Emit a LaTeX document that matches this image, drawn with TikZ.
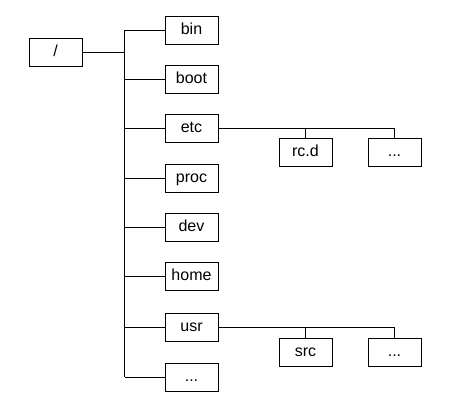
\documentclass[tikz,border=0pt]{standalone}
\usepackage{fontspec}
\setmainfont{Liberation Sans}
\usetikzlibrary{positioning}

\begin{document}
\begin{tikzpicture}[x=1pt, y=-1pt, line width=0.9pt]
            \tikzset{
                dir/.style={draw, minimum width=53pt, minimum height=28pt, inner sep=0pt, text height=11pt, text depth=3pt, font=\fontsize{16}{19}\selectfont}
            };
            \useasboundingbox (0, 0) rectangle (450, 400);
            \node[dir] (root) at (55.5, 52) {/};
            \node[dir] (bin) at (191.5, 30) {bin};
            \node[dir] (boot) at (191.5, 79.5) {boot};
            \node[dir] (etc) at (191.5, 128) {etc};
            \node[dir] (proc) at (191.5, 178) {proc};
            \node[dir] (dev) at (191.5, 227) {dev};
            \node[dir] (home) at (191.5, 276.5) {home};
            \node[dir] (usr) at (191.5, 327) {usr};
            \node[dir] (more) at (191.5, 377) {...};
            \node[dir] (rcd) at (305.5, 152) {rc.d};
            \node[dir] (etcmore) at (394.5, 152) {...};
            \node[dir] (src) at (305.5, 352) {src};
            \node[dir] (usrmore) at (394.5, 352) {...};
            \coordinate (bus) at (124.5, 0);
            \draw (bin.west -| bus) -- (more.west -| bus);
            \draw (root.east) -- (root.east -| bus);
            \foreach \d in {bin, boot, etc, proc, dev, home, usr, more}
                \draw (\d.west) -- (\d.west -| bus);
            \draw (etc.east) -- (etcmore.north |- etc.east) -- (etcmore.north);
            \draw (rcd.north) -- (rcd.north |- etc.east);
            \draw (usr.east) -- (usrmore.north |- usr.east) -- (usrmore.north);
            \draw (src.north) -- (src.north |- usr.east);
        \end{tikzpicture}
\end{document}
